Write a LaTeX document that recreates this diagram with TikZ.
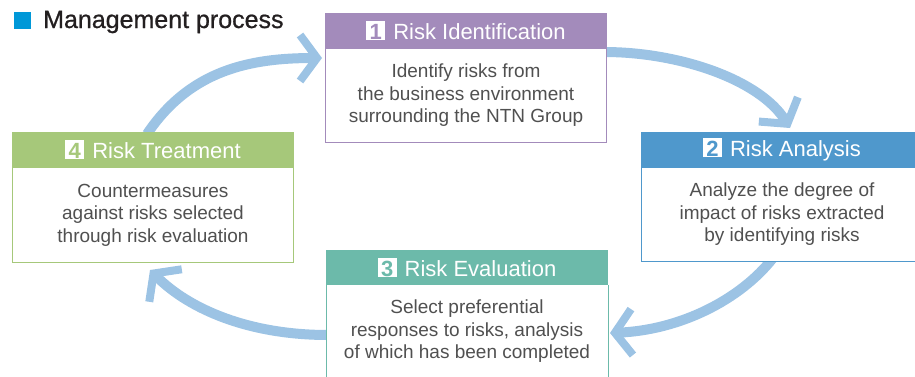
\documentclass[tikz,border=0pt]{standalone}
\usepackage{fontspec}
\setmainfont{Liberation Sans}
\newfontfamily\titlefont[FakeBold=0.8]{Liberation Sans}
\usetikzlibrary{arrows.meta}
\definecolor{cpur}{HTML}{A38BBB}
\definecolor{cblu}{HTML}{4F98CC}
\definecolor{cteal}{HTML}{6CBAAA}
\definecolor{cgrn}{HTML}{A6C87A}
\definecolor{carrow}{HTML}{9CC3E4}
\definecolor{ctsq}{HTML}{0098D8}
\definecolor{ctitle}{HTML}{231F20}
\definecolor{ctxt}{HTML}{505050}
\newcommand\numsq[2]{{\setlength{\fboxsep}{0pt}\colorbox{white}{\rule[-1pt]{0pt}{19pt}\makebox[19pt]{\textcolor{#1}{\bfseries #2}}}}\hspace{8pt}}
\begin{document}
\begin{tikzpicture}[x=1pt,y=-1pt,
  hdr/.style={fill=#1, draw=#1, line width=1pt, anchor=north west, minimum width=281pt, minimum height=34pt, inner sep=0pt, text=white, font=\fontsize{22}{26}\selectfont},
  bdy/.style={draw=#1, fill=white, line width=1pt, anchor=north west, minimum width=281pt, inner sep=0pt, align=center, text=ctxt, font=\fontsize{19}{22.5}\selectfont},
  arr/.style={draw=carrow, line width=10pt, -{Straight Barb[sharp, length=17pt, width=46pt, line width=8pt]}}
]
\useasboundingbox (0,0) rectangle (915,376);
\clip (0,0) rectangle (915,376);

% title
\node[fill=ctsq, minimum size=17pt, inner sep=0pt, anchor=north west] (tsq) at (14,12) {};
\node[anchor=base west, inner sep=0pt, text=ctitle, font=\titlefont\fontsize{25}{30}\selectfont] (title) at (43,28) {Management process};

% arrow coordinates
\coordinate (a1s) at (147,134);
\coordinate (a1e) at (322,58);
\coordinate (a2s) at (604,52);
\coordinate (a2e) at (790,128);
\coordinate (a3s) at (773,258);
\coordinate (a3e) at (610,333);
\coordinate (a4s) at (328,335);
\coordinate (a4e) at (150,270);

% arrows
\draw[arr] (a1s) .. controls (190,70) and (250,58) .. (a1e);
\draw[arr] (a2s) .. controls (680,52) and (760,80) .. (a2e);
\draw[arr] (a3s) .. controls (740,300) and (680,330) .. (a3e);
\draw[arr] (a4s) .. controls (250,335) and (190,310) .. (a4e);

% box 1
\node[hdr=cpur] (h1) at (325,13) {\numsq{cpur}{1}Risk Identification};
\node[bdy=cpur, minimum height=94pt] (b1) at (h1.south west) {Identify risks from\\the business environment\\surrounding the NTN Group};

% box 2
\node[hdr=cblu] (h2) at (641,132) {\numsq{cblu}{2}Risk Analysis};
\node[bdy=cblu, minimum height=94pt] (b2) at (h2.south west) {Analyze the degree of\\impact of risks extracted\\by identifying risks};

% box 3
\node[hdr=cteal] (h3) at (326,250) {\numsq{cteal}{3}Risk Evaluation};
\node[bdy=cteal, draw=none, minimum height=92pt] (b3) at (h3.south west) {Select preferential\\responses to risks, analysis\\of which has been completed};
\draw[cteal, line width=1pt] (b3.north west) -- ++(0,110);
\draw[cteal, line width=1pt] (b3.north east) -- ++(0,110);

% box 4
\node[hdr=cgrn] (h4) at (12,132) {\numsq{cgrn}{4}Risk Treatment};
\node[bdy=cgrn, minimum height=95pt] (b4) at (h4.south west) {Countermeasures\\against risks selected\\through risk evaluation};
\end{tikzpicture}
\end{document}
